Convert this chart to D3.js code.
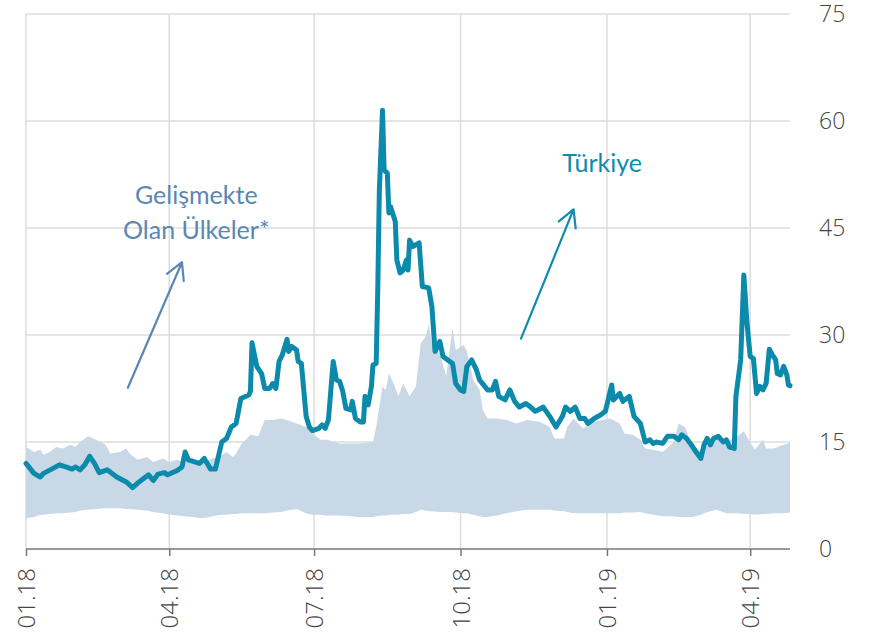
<!DOCTYPE html>
<html>
<head>
<meta charset="utf-8">
<script src="https://cdn.jsdelivr.net/npm/d3@7"></script>
<style>
  body { margin: 0; background: #fff; }
  .tick-label { font-family: "Open Sans", sans-serif; font-weight: 300; fill: #444; }
  .note { font-family: Lato, "Open Sans", sans-serif; }
</style>
</head>
<body>
<script>
var width = 870, height = 640;

// Türkiye (line)
var trDates = [
  "2018-01-01","2018-01-06","2018-01-10","2018-01-12","2018-01-18","2018-01-22","2018-01-26","2018-01-30",
  "2018-02-01","2018-02-04","2018-02-07","2018-02-10","2018-02-13","2018-02-16","2018-02-21","2018-02-27",
  "2018-03-05","2018-03-09","2018-03-13","2018-03-19","2018-03-22","2018-03-25","2018-03-29","2018-03-31",
  "2018-04-06","2018-04-09","2018-04-11","2018-04-13","2018-04-17","2018-04-20","2018-04-23","2018-04-27","2018-04-30",
  "2018-05-04","2018-05-07","2018-05-10","2018-05-13","2018-05-16","2018-05-21","2018-05-22","2018-05-23","2018-05-26","2018-05-29","2018-05-31",
  "2018-06-03","2018-06-05","2018-06-07","2018-06-09","2018-06-11","2018-06-14","2018-06-15","2018-06-17","2018-06-20","2018-06-21","2018-06-23","2018-06-26","2018-06-28","2018-06-30",
  "2018-07-04","2018-07-06","2018-07-08","2018-07-10","2018-07-13","2018-07-15","2018-07-17","2018-07-19","2018-07-21","2018-07-24","2018-07-25","2018-07-27","2018-07-30",
  "2018-08-01","2018-08-02","2018-08-04","2018-08-06","2018-08-07","2018-08-09","2018-08-10","2018-08-11","2018-08-13","2018-08-14","2018-08-16","2018-08-17","2018-08-18","2018-08-21","2018-08-22","2018-08-24","2018-08-26","2018-08-28","2018-08-29","2018-08-30",
  "2018-09-01","2018-09-05","2018-09-07","2018-09-11","2018-09-13","2018-09-15","2018-09-18","2018-09-20","2018-09-23","2018-09-26","2018-09-28",
  "2018-10-01","2018-10-03","2018-10-05","2018-10-08","2018-10-11","2018-10-13","2018-10-18","2018-10-21","2018-10-23","2018-10-25","2018-10-29",
  "2018-11-01","2018-11-04","2018-11-07","2018-11-11","2018-11-14","2018-11-17","2018-11-22","2018-11-26","2018-11-30",
  "2018-12-04","2018-12-06","2018-12-09","2018-12-12","2018-12-15","2018-12-18","2018-12-20","2018-12-24","2018-12-28","2018-12-31",
  "2019-01-04","2019-01-05","2019-01-09","2019-01-11","2019-01-15","2019-01-18","2019-01-22","2019-01-25","2019-01-28","2019-01-30",
  "2019-02-01","2019-02-05","2019-02-08","2019-02-12","2019-02-15","2019-02-17","2019-02-20","2019-02-23","2019-02-26",
  "2019-03-01","2019-03-03","2019-03-05","2019-03-07","2019-03-09","2019-03-12","2019-03-15","2019-03-17","2019-03-19","2019-03-22","2019-03-23","2019-03-26","2019-03-28","2019-03-30",
  "2019-04-01","2019-04-03","2019-04-05","2019-04-07","2019-04-09","2019-04-11","2019-04-13","2019-04-15","2019-04-17","2019-04-18","2019-04-20","2019-04-22","2019-04-24","2019-04-25","2019-04-26"
];
var trValues = [
  12.0,10.6,10.1,10.6,11.3,11.8,11.5,11.2,
  11.5,11.1,11.8,13.0,12.0,10.7,11.1,10.1,
  9.4,8.6,9.4,10.4,9.6,10.5,10.7,10.4,
  11.0,11.5,13.6,12.5,12.2,12.0,12.7,11.2,11.2,
  15.0,15.5,17.1,17.6,21.1,21.6,22.1,28.9,25.6,24.6,22.5,
  22.5,23.2,22.5,26.3,27.2,29.4,27.7,28.4,27.9,26.3,26.0,18.6,17.1,16.6,
  16.9,17.4,16.9,18.1,26.3,23.7,23.5,22.1,19.7,19.5,20.7,18.3,17.8,
  17.8,21.4,20.2,22.8,25.8,26.0,36.3,50.3,61.5,53.1,52.7,47.1,48.0,45.9,40.5,38.7,39.1,40.5,39.1,43.3,
  42.4,42.9,36.8,36.6,34.0,27.7,29.1,27.0,26.5,26.0,23.2,
  22.3,22.1,25.6,26.5,25.1,23.7,22.3,22.3,23.5,21.4,20.9,
  22.3,20.7,19.9,20.4,19.9,19.3,19.9,18.6,17.1,
  18.6,19.9,19.3,19.9,18.3,18.3,17.6,18.3,18.8,19.3,
  23.0,20.9,21.8,20.7,21.4,18.6,17.6,15.0,15.3,14.8,
  15.0,14.8,15.8,15.8,15.3,16.0,15.5,14.6,13.6,
  12.7,14.6,15.5,14.6,15.5,15.8,15.0,15.3,14.3,14.1,21.4,26.5,38.4,31.6,
  27.0,26.7,21.8,22.8,22.3,23.2,28.0,27.2,26.5,24.6,24.4,25.6,24.4,23.0,22.9
];

// Gelişmekte olan ülkeler (band: min / max)
var bandDates = [
  "2018-01-01","2018-01-06","2018-01-10","2018-01-12","2018-01-16","2018-01-20","2018-01-24","2018-01-29",
  "2018-02-01","2018-02-04","2018-02-09","2018-02-14","2018-02-20","2018-02-23",
  "2018-03-01","2018-03-05","2018-03-07","2018-03-12","2018-03-18","2018-03-22","2018-03-28",
  "2018-04-01","2018-04-06","2018-04-10","2018-04-16","2018-04-21","2018-04-26",
  "2018-05-03","2018-05-07","2018-05-11","2018-05-13","2018-05-16","2018-05-22","2018-05-27","2018-05-31",
  "2018-06-05","2018-06-10","2018-06-14","2018-06-20","2018-06-26","2018-06-30",
  "2018-07-05","2018-07-09","2018-07-17","2018-07-24","2018-07-29",
  "2018-08-07","2018-08-09","2018-08-13","2018-08-15","2018-08-17","2018-08-20","2018-08-23","2018-08-26","2018-08-30",
  "2018-09-03","2018-09-06","2018-09-09","2018-09-11","2018-09-13","2018-09-18","2018-09-22","2018-09-26","2018-09-28",
  "2018-10-03","2018-10-05","2018-10-09","2018-10-13","2018-10-15","2018-10-18","2018-10-24","2018-10-30",
  "2018-11-05","2018-11-12","2018-11-20","2018-11-26","2018-11-29",
  "2018-12-05","2018-12-07","2018-12-11","2018-12-17","2018-12-23",
  "2019-01-03","2019-01-09","2019-01-12","2019-01-17","2019-01-22","2019-01-25","2019-01-30",
  "2019-02-05","2019-02-12","2019-02-15","2019-02-19","2019-02-22","2019-02-24",
  "2019-03-01","2019-03-05","2019-03-11","2019-03-17","2019-03-24","2019-03-28","2019-03-31",
  "2019-04-04","2019-04-09","2019-04-11","2019-04-16","2019-04-22","2019-04-26"
];
var bandUpper = [
  14.3,13.6,13.9,13.2,13.6,14.3,14.1,14.6,
  14.3,15.0,15.8,15.3,14.6,13.4,
  13.6,14.1,13.4,12.5,12.9,12.2,12.7,
  12.2,12.5,12.2,12.5,12.0,12.5,
  13.0,13.6,12.9,13.4,14.6,16.0,15.8,18.1,
  18.1,18.3,18.1,17.6,17.1,16.2,
  15.3,15.3,14.8,14.8,14.8,
  15.0,17.1,22.8,22.3,24.6,23.2,21.4,23.2,21.4,
  22.8,28.8,29.8,31.5,28.8,27.4,24.2,30.9,27.9,
  28.6,27.7,23.7,22.3,19.5,18.3,18.3,18.1,
  17.6,18.1,17.8,17.1,15.5,
  15.5,17.1,18.3,16.9,17.8,
  18.3,17.6,16.2,16.0,15.3,14.1,13.9,
  13.6,15.0,17.6,17.1,15.3,13.9,
  13.9,14.6,15.5,15.0,15.8,16.5,15.3,
  13.9,15.3,14.1,14.1,14.6,14.9
];
var bandLower = [
  4.3,4.5,4.8,4.8,4.9,5.0,5.0,5.1,
  5.2,5.4,5.5,5.6,5.7,5.7,
  5.7,5.6,5.6,5.5,5.4,5.2,5.0,
  4.8,4.7,4.6,4.5,4.3,4.5,
  4.8,4.8,4.9,4.9,5.0,5.0,5.0,5.0,
  5.1,5.2,5.4,5.6,5.0,4.8,
  4.8,4.7,4.7,4.6,4.5,
  4.5,4.6,4.7,4.7,4.8,4.8,4.8,4.9,4.9,
  5.2,5.5,5.4,5.3,5.3,5.2,5.2,5.2,5.1,
  5.0,5.0,4.8,4.6,4.5,4.5,4.7,5.0,
  5.3,5.5,5.5,5.5,5.4,
  5.3,5.2,5.0,5.0,5.0,
  5.0,5.0,5.1,5.1,5.2,5.0,4.8,
  4.6,4.6,4.5,4.5,4.5,4.5,
  4.8,5.2,5.5,5.0,5.0,4.9,4.9,
  4.8,4.9,4.9,5.0,5.0,5.1
];

var yTicks = [0, 15, 30, 45, 60, 75];
var xTicks = ["2018-01-01","2018-04-01","2018-07-01","2018-10-01","2019-01-01","2019-04-01"];

var parse = d3.timeParse("%Y-%m-%d");
var fmt = d3.timeFormat("%m.%y");

var trData = trDates.map(function(d, i) { return { date: parse(d), value: trValues[i] }; });
var bandData = bandDates.map(function(d, i) { return { date: parse(d), lo: bandLower[i], hi: bandUpper[i] }; });

var x = d3.scaleTime()
    .domain([parse("2018-01-01"), parse("2019-04-26")])
    .range([26, 790]);
var y = d3.scaleLinear().domain([0, 75]).range([549, 14]);

var svg = d3.select("body").append("svg")
    .attr("width", width)
    .attr("height", height);

// grid
svg.append("g").selectAll("line.h")
    .data(yTicks.filter(function(t) { return t > 0; }))
    .enter().append("line")
    .attr("x1", 26).attr("x2", 790)
    .attr("y1", function(d) { return y(d); })
    .attr("y2", function(d) { return y(d); })
    .attr("stroke", "#dddddd").attr("stroke-width", 1.5);

svg.append("g").selectAll("line.v")
    .data(xTicks)
    .enter().append("line")
    .attr("x1", function(d) { return x(parse(d)); })
    .attr("x2", function(d) { return x(parse(d)); })
    .attr("y1", y(75)).attr("y2", y(0))
    .attr("stroke", "#dddddd").attr("stroke-width", 1.5);

// band
svg.append("path")
    .datum(bandData)
    .attr("fill", "#c9d8e6")
    .attr("d", d3.area()
        .x(function(d) { return x(d.date); })
        .y0(function(d) { return y(d.lo); })
        .y1(function(d) { return y(d.hi); }));

// Türkiye line
svg.append("path")
    .datum(trData)
    .attr("fill", "none")
    .attr("stroke", "#0b8aab")
    .attr("stroke-width", 5)
    .attr("stroke-linejoin", "round")
    .attr("stroke-linecap", "round")
    .attr("d", d3.line()
        .x(function(d) { return x(d.date); })
        .y(function(d) { return y(d.value); }));

// x axis
var xAxis = svg.append("g")
    .attr("transform", "translate(0," + y(0) + ")")
    .call(d3.axisBottom(x)
        .tickValues(xTicks.map(parse))
        .tickSize(7)
        .tickFormat(fmt));
xAxis.select(".domain").attr("stroke", "#777").attr("stroke-width", 1.5).attr("d", "M26,0H790");
xAxis.selectAll(".tick line").attr("stroke", "#777").attr("stroke-width", 1.5);
xAxis.selectAll(".tick text")
    .attr("class", "tick-label")
    .attr("font-size", 24)
    .attr("transform", "rotate(-90)")
    .attr("text-anchor", "end")
    .attr("x", -19)
    .attr("y", 0)
    .attr("dy", "0.36em");

// y labels on the right
svg.append("g").selectAll("text")
    .data(yTicks)
    .enter().append("text")
    .attr("class", "tick-label")
    .attr("font-size", 23)
    .attr("x", 819)
    .attr("y", function(d) { return y(d); })
    .attr("dy", "0.36em")
    .text(function(d) { return d; });

// annotations
function arrow(color, from, to) {
    var x1 = x(parse(from[0])), y1 = y(from[1]);
    var x2 = x(parse(to[0])), y2 = y(to[1]);
    var a = Math.atan2(y2 - y1, x2 - x1), len = 19, sp = 0.5;
    var p = "M" + x1 + "," + y1 + "L" + x2 + "," + y2 +
        "M" + (x2 - len * Math.cos(a - sp)) + "," + (y2 - len * Math.sin(a - sp)) +
        "L" + x2 + "," + y2 +
        "L" + (x2 - len * Math.cos(a + sp)) + "," + (y2 - len * Math.sin(a + sp));
    svg.append("path").attr("d", p).attr("fill", "none")
        .attr("stroke", color).attr("stroke-width", 2.2)
        .attr("stroke-linecap", "round").attr("stroke-linejoin", "round");
}

var emColor = "#5b87b3", trColor = "#0f8cab";
arrow(emColor, ["2018-03-06", 22.6], ["2018-04-09", 40.2]);
arrow(trColor, ["2018-11-08", 29.5], ["2018-12-11", 47.6]);

var emLines = ["Gelişmekte", "Olan Ülkeler*"];
svg.append("g").selectAll("text")
    .data(emLines)
    .enter().append("text")
    .attr("class", "note")
    .attr("fill", emColor)
    .attr("font-size", 25)
    .attr("text-anchor", "middle")
    .attr("x", x(parse("2018-04-18")))
    .attr("y", function(d, i) { return y(48.4) + i * 35; })
    .text(function(d) { return d; });

svg.append("text")
    .attr("class", "note")
    .attr("fill", trColor)
    .attr("font-size", 25)
    .attr("text-anchor", "middle")
    .attr("x", x(parse("2018-12-29")))
    .attr("y", y(52.9))
    .text("Türkiye");
</script>
</body>
</html>
